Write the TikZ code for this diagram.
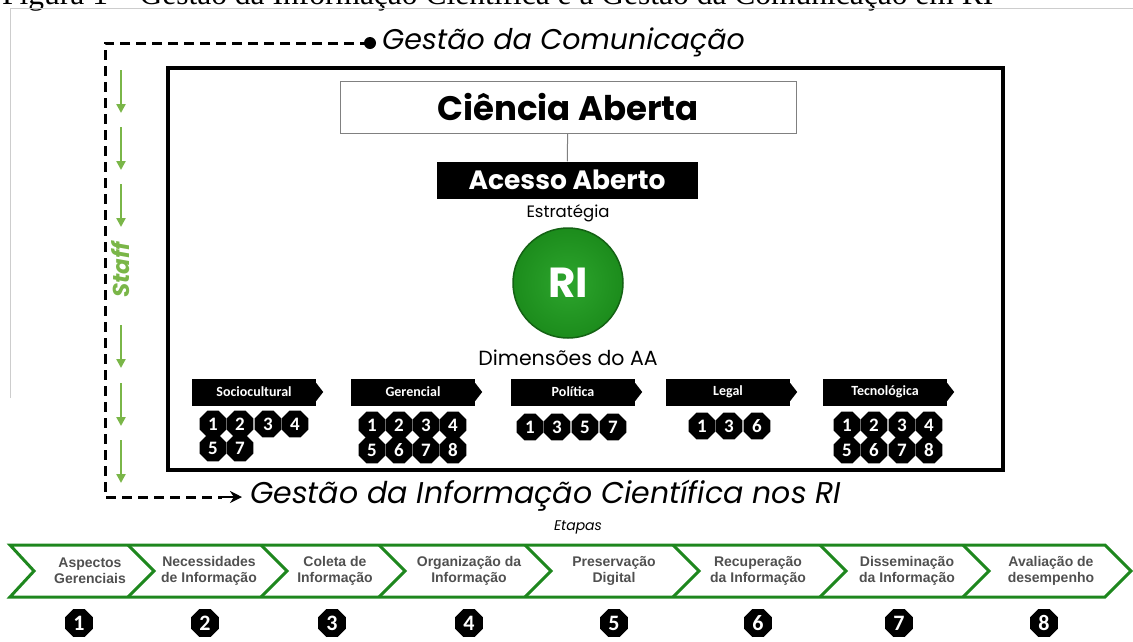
\documentclass[tikz,border=0pt]{standalone}
\usepackage{fontspec}
\setmainfont{Liberation Serif}
\newfontfamily\mont{Poppins}
\newfontfamily\calib{Carlito}
\newfontfamily\arialf{Liberation Sans}
\usetikzlibrary{positioning,shapes.geometric,arrows.meta}
\definecolor{rigreen}{RGB}{28,140,28}
\definecolor{rilight}{RGB}{45,165,45}
\definecolor{staffgreen}{RGB}{122,182,72}
\definecolor{stepgreen}{RGB}{30,135,30}
\definecolor{framegray}{RGB}{205,205,205}
\definecolor{steptext}{RGB}{80,80,80}
\tikzset{
  badge/.style={regular polygon,regular polygon sides=8,fill=black,text=white,inner sep=0pt,minimum size=29pt,font=\calib\bfseries\fontsize{19}{19}\selectfont},
  stepbadge/.style={badge,minimum size=30pt,font=\calib\bfseries\fontsize{22}{22}\selectfont},
  dimtab/.style={fill=black,text=white,minimum width=124pt,minimum height=27pt,inner sep=0pt,font=\calib\bfseries\fontsize{14}{14}\selectfont},
  dashline/.style={line width=3pt,dash pattern=on 10pt off 6pt},
  stepline/.style={stepgreen,line width=3pt,line join=miter},
  steplabel/.style={align=center,text=steptext,font=\arialf\bfseries\fontsize{14}{16}\selectfont},
  staffarrow/.style={staffgreen,line width=2.5pt,-{Triangle[length=9pt,width=9pt]}}
}
\begin{document}
\begin{tikzpicture}[x=1pt,y=-1pt]
\useasboundingbox (0,0) rectangle (1133,641);
% caption, cut by the top edge
\node[anchor=base west,inner sep=0pt,font=\fontsize{31.5}{31.5}\selectfont] (caption) at (2,4) {Figura 1 -- Gestão da Informação Científica e a Gestão da Comunicação em RI};
\draw[framegray,line width=1pt] (10,398) -- (10,8) -- (1133,8);

% communication / information flow
\fill (370,43) circle (6pt);
\coordinate (dot) at (370,43);
\coordinate (cornerA) at (105,43);
\coordinate (cornerB) at (105,497);
\node[anchor=west,inner sep=0pt,font=\mont\itshape\fontsize{28.5}{28.5}\selectfont] (comunic) at (382,42) {Gestão da Comunicação};
\node[anchor=west,inner sep=0pt,font=\mont\itshape\fontsize{30}{30}\selectfont] (gestinfo) at (250,496) {Gestão da Informação Científica nos RI};
\coordinate (tipbase) at (222,497);
\coordinate (tipend) at (242,497);
\draw[dashline] (dot) -- (cornerA) -- (cornerB) -- (tipbase);
\draw[-{Stealth[length=12pt,width=12pt]},line width=2.5pt] (tipbase) -- (tipend);
\node[font=\mont\itshape\fontsize{14}{14}\selectfont] (etapas) at (578,527) {Etapas};

% staff
\foreach \y in {70,127,184,325,383,440}
  \draw[staffarrow] (121,\y) -- ++(0,43);
\node[rotate=90,text=staffgreen,font=\mont\bfseries\itshape\fontsize{23}{23}\selectfont] (staff) at (121,270) {Staff};

% open science box
\draw[line width=4pt] (168,68) rectangle (1003,470);
\node[draw=gray,line width=1pt,minimum width=456pt,minimum height=52pt,font=\mont\bfseries\fontsize{34}{34}\selectfont] (ciencia) at (568,107) {Ciência Aberta};
\node[fill=black,text=white,minimum width=261pt,minimum height=37pt,inner sep=0pt,font=\mont\bfseries\fontsize{26.5}{26.5}\selectfont] (acesso) at (567,180) {Acesso Aberto};
\draw[gray,line width=1pt] (ciencia) -- (acesso);
\node[font=\mont\fontsize{16.5}{16.5}\selectfont] (estrat) at (568,213) {Estratégia};
\node[circle,inner color=rilight,outer color=rigreen,draw=rigreen!70!black,line width=1.5pt,minimum size=110pt,text=white,font=\mont\bfseries\fontsize{42}{42}\selectfont] (ri) at (568,283) {RI};
\node[font=\mont\fontsize{20.5}{20.5}\selectfont] (dimens) at (568,358) {Dimensões do AA};

% dimensions
\foreach \nm/\cx/\lbl in {socio/254/Sociocultural,geren/413/Gerencial,polit/573/Política,legal/728/Legal,tecno/885/Tecnológica}{
  \node[dimtab] (\nm) at (\cx,392) {\lbl};
  \fill (\nm.east) ++(0,-9) -- ++(7,9) -- ++(-7,9) -- cycle;
}
\foreach \n/\x/\y in {1/213/424,2/240/424,3/268/424,4/295/424,5/213/448,7/240/448}
  \node[badge] (socio\n) at (\x,\y) {\n};
\foreach \n/\x/\y in {1/372/425,2/399/425,3/426/425,4/453/425,5/372/450,6/399/450,7/426/450,8/453/450}
  \node[badge] (geren\n) at (\x,\y) {\n};
\foreach \n/\x in {1/530,3/557,5/585,7/613}
  \node[badge] (polit\n) at (\x,427) {\n};
\foreach \n/\x in {1/702,3/729,6/757}
  \node[badge] (legal\n) at (\x,426) {\n};
\foreach \n/\x/\y in {1/847/425,2/874/425,3/902/425,4/929/425,5/847/450,6/874/450,7/902/450,8/929/450}
  \node[badge] (tecno\n) at (\x,\y) {\n};

% steps band
\draw[stepline] (10,545) -- (1105,545) -- (1131,571) -- (1105,597) -- (10,597) -- (34,571) -- cycle;
\foreach \d in {128,261,379,525,673,820,963}
  \draw[stepline] (\d,545) -- ++(26,26) -- ++(-26,26);
\foreach \i/\sx/\nx/\txt in {1/90/79/Aspectos\\Gerenciais,2/209/205/Necessidades\\de Informação,3/335/332/Coleta de\\Informação,4/469/469/Organização da\\Informação,5/614/614/Preservação\\Digital,6/758/758/Recuperação\\da Informação,7/907/899/Disseminação\\da Informação,8/1051/1044/Avaliação de\\desempenho}{
  \node[steplabel] (step\i) at (\sx,571) {\txt};
  \node[stepbadge] (num\i) at (\nx,623) {\i};
}
\end{tikzpicture}
\end{document}
